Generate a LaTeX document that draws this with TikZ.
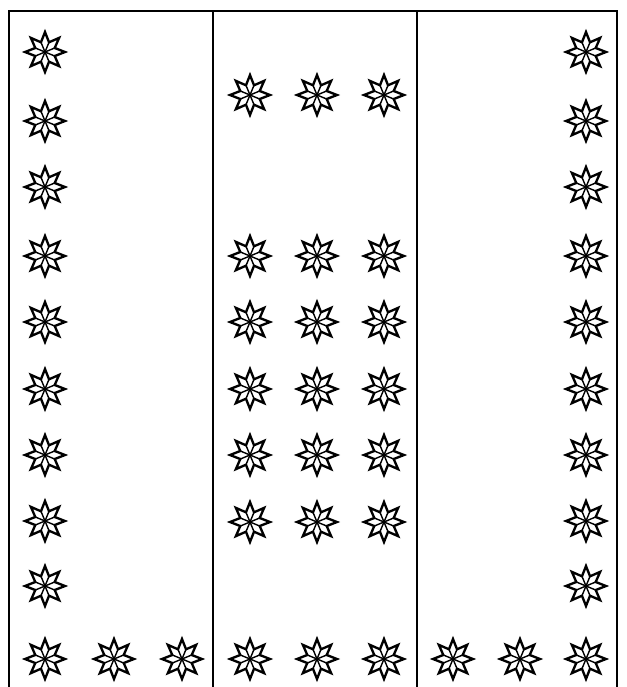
\documentclass[tikz,border=0pt]{standalone}
\usetikzlibrary{calc}

\begin{document}
\begin{tikzpicture}[x=0.03cm, y=-0.03cm,
  frameline/.style={draw=black, line width=0.9pt},
  starline/.style={draw=black, line width=2pt, line join=miter, fill=white},
  innerline/.style={draw=black, line width=1.2pt},
  rosette/.pic={
    % outline of the eight-point star
    \path[starline] (67.5:10.5) \foreach \a in {90,135,...,405} { -- (\a:20) -- (\a+22.5:10.5) } -- cycle;
    % rhombus edges
    \foreach \a in {22.5,67.5,...,337.5}
      \draw[innerline] (0,0) -- (\a:10.5);
  }
]
\useasboundingbox (0,0) rectangle (627,687);

% frame and dividers
\coordinate (tl) at (9,11);
\coordinate (tr) at (617,11);
\coordinate (bl) at (9,687);
\coordinate (br) at (617,687);
\coordinate (d1t) at (213,11);
\coordinate (d1b) at (213,687);
\coordinate (d2t) at (417,11);
\coordinate (d2b) at (417,687);
\draw[frameline] (bl) -- (tl) -- (tr) -- (br);
\draw[frameline] (d1t) -- (d1b);
\draw[frameline] (d2t) -- (d2b);

% left and right columns
\foreach \y in {52,121,187,256,322,389,455,521,586,659} {
  \pic at (45,\y) {rosette};
  \pic at (586,\y) {rosette};
}

% middle block
\foreach \x in {250,317,384} {
  \pic at (\x,95) {rosette};
  \foreach \y in {256,322,389,455,522}
    \pic at (\x,\y) {rosette};
}

% bottom row
\foreach \x in {114,182,250,317,384,453,520}
  \pic at (\x,659) {rosette};
\end{tikzpicture}
\end{document}
